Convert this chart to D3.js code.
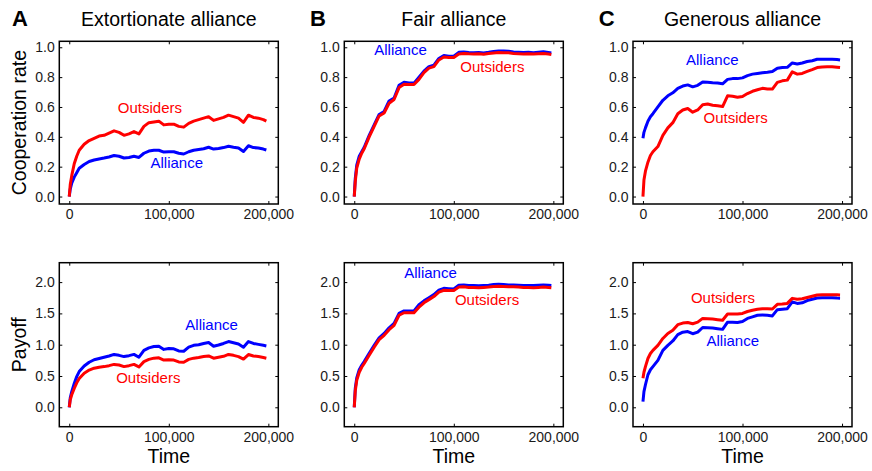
<!DOCTYPE html>
<html>
<head>
<meta charset="utf-8">
<script src="https://cdn.jsdelivr.net/npm/d3@7"></script>
<style>
  body { margin: 0; background: #fff; }
  text { font-family: "Liberation Sans", Arial, sans-serif; }
</style>
</head>
<body>
<script>
// shared time axis (simulation steps)
var time = [0, 1000, 2500, 5000, 7500, 10000, 15000, 20000, 25000, 30000, 35000,
  40000, 45000, 50000, 55000, 60000, 65000, 70000, 75000, 80000, 85000, 90000,
  95000, 100000, 105000, 110000, 115000, 120000, 125000, 130000, 135000, 140000, 145000,
  150000, 155000, 160000, 165000, 170000, 175000, 180000, 185000, 190000, 195000, 198000];

// A: extortionate alliance
var extCoopAlliance = [0, 0.05, 0.09, 0.13, 0.16, 0.19, 0.215, 0.235, 0.245, 0.252, 0.258,
  0.265, 0.275, 0.27, 0.258, 0.262, 0.27, 0.262, 0.29, 0.305, 0.31, 0.31,
  0.298, 0.3, 0.3, 0.29, 0.285, 0.3, 0.31, 0.315, 0.32, 0.33, 0.318,
  0.322, 0.328, 0.337, 0.33, 0.325, 0.302, 0.34, 0.328, 0.325, 0.318, 0.312];
var extCoopOutsiders = [0, 0.08, 0.14, 0.22, 0.27, 0.31, 0.35, 0.375, 0.39, 0.405, 0.41,
  0.425, 0.44, 0.43, 0.41, 0.42, 0.435, 0.42, 0.47, 0.495, 0.5, 0.505,
  0.48, 0.485, 0.485, 0.47, 0.465, 0.49, 0.505, 0.515, 0.525, 0.535, 0.51,
  0.52, 0.53, 0.545, 0.535, 0.525, 0.497, 0.545, 0.53, 0.525, 0.515, 0.505];
var extPayAlliance = [0, 0.15, 0.25, 0.38, 0.49, 0.57, 0.66, 0.72, 0.76, 0.78, 0.8,
  0.82, 0.845, 0.83, 0.81, 0.825, 0.845, 0.8, 0.91, 0.95, 0.97, 0.975,
  0.925, 0.94, 0.935, 0.9, 0.895, 0.96, 0.99, 1.0, 1.02, 1.035, 0.975,
  0.995, 1.02, 1.05, 1.03, 1.01, 0.96, 1.05, 1.02, 1.005, 0.99, 0.98];
var extPayOutsiders = [0, 0.12, 0.2, 0.3, 0.39, 0.46, 0.545, 0.595, 0.625, 0.64, 0.65,
  0.665, 0.685, 0.675, 0.65, 0.665, 0.685, 0.645, 0.73, 0.765, 0.785, 0.79,
  0.755, 0.76, 0.755, 0.725, 0.72, 0.765, 0.785, 0.795, 0.81, 0.82, 0.785,
  0.8, 0.815, 0.845, 0.83, 0.81, 0.77, 0.843, 0.82, 0.81, 0.795, 0.784];

// B: fair alliance
var fairCoopAlliance = [0, 0.12, 0.21, 0.27, 0.3, 0.33, 0.41, 0.48, 0.55, 0.57, 0.64,
  0.66, 0.745, 0.765, 0.76, 0.76, 0.8, 0.84, 0.87, 0.88, 0.925, 0.945,
  0.94, 0.94, 0.966, 0.968, 0.965, 0.963, 0.965, 0.962, 0.966, 0.972, 0.975,
  0.975, 0.973, 0.968, 0.967, 0.965, 0.966, 0.964, 0.967, 0.97, 0.965, 0.962];
var fairCoopOutsiders = [0, 0.1, 0.19, 0.25, 0.29, 0.32, 0.4, 0.47, 0.54, 0.56, 0.625,
  0.65, 0.73, 0.752, 0.75, 0.75, 0.785, 0.83, 0.86, 0.87, 0.915, 0.935,
  0.932, 0.932, 0.955, 0.958, 0.956, 0.955, 0.956, 0.954, 0.958, 0.962, 0.965,
  0.964, 0.963, 0.958, 0.957, 0.955, 0.956, 0.955, 0.957, 0.958, 0.955, 0.952];
var fairPayAlliance = [0, 0.3, 0.47, 0.6, 0.67, 0.73, 0.864, 0.99, 1.11, 1.18, 1.27,
  1.34, 1.5, 1.54, 1.54, 1.54, 1.64, 1.7, 1.75, 1.8, 1.87, 1.9,
  1.895, 1.89, 1.95, 1.955, 1.945, 1.945, 1.94, 1.945, 1.95, 1.96, 1.965,
  1.96, 1.955, 1.955, 1.95, 1.945, 1.945, 1.945, 1.95, 1.955, 1.95, 1.945];
var fairPayOutsiders = [0, 0.26, 0.43, 0.56, 0.64, 0.7, 0.83, 0.96, 1.08, 1.15, 1.24,
  1.31, 1.47, 1.51, 1.51, 1.51, 1.6, 1.67, 1.72, 1.77, 1.84, 1.87,
  1.865, 1.865, 1.92, 1.925, 1.915, 1.915, 1.91, 1.915, 1.92, 1.93, 1.935,
  1.93, 1.925, 1.925, 1.92, 1.915, 1.915, 1.91, 1.915, 1.92, 1.915, 1.91];

// C: generous alliance
var genCoopAlliance = [0.39, 0.43, 0.46, 0.505, 0.535, 0.555, 0.6, 0.645, 0.675, 0.695, 0.725,
  0.74, 0.748, 0.735, 0.745, 0.768, 0.765, 0.762, 0.76, 0.755, 0.785, 0.79,
  0.79, 0.795, 0.81, 0.82, 0.825, 0.83, 0.833, 0.837, 0.86, 0.864, 0.866,
  0.895, 0.888, 0.895, 0.905, 0.91, 0.92, 0.92, 0.92, 0.92, 0.918, 0.915];
var genCoopOutsiders = [0, 0.11, 0.17, 0.23, 0.275, 0.3, 0.335, 0.41, 0.46, 0.495, 0.555,
  0.58, 0.59, 0.565, 0.58, 0.615, 0.62, 0.612, 0.608, 0.603, 0.675, 0.672,
  0.665, 0.67, 0.69, 0.705, 0.715, 0.725, 0.72, 0.72, 0.765, 0.775, 0.78,
  0.835, 0.82, 0.825, 0.838, 0.85, 0.864, 0.868, 0.87, 0.87, 0.866, 0.864];
var genPayAlliance = [0.09, 0.25, 0.36, 0.52, 0.6, 0.65, 0.75, 0.91, 0.99, 1.06, 1.16,
  1.2, 1.21, 1.175, 1.2, 1.275, 1.27, 1.265, 1.255, 1.245, 1.36, 1.36,
  1.355, 1.37, 1.42, 1.445, 1.47, 1.475, 1.47, 1.46, 1.56, 1.568, 1.575,
  1.685, 1.66, 1.67, 1.705, 1.725, 1.745, 1.75, 1.75, 1.75, 1.745, 1.744];
var genPayOutsiders = [0.464, 0.56, 0.65, 0.78, 0.86, 0.91, 0.99, 1.1, 1.18, 1.23, 1.32,
  1.345, 1.355, 1.335, 1.36, 1.42, 1.415, 1.41, 1.4, 1.39, 1.49, 1.49,
  1.49, 1.5, 1.53, 1.55, 1.565, 1.575, 1.575, 1.57, 1.645, 1.65, 1.66,
  1.74, 1.725, 1.735, 1.755, 1.775, 1.795, 1.797, 1.797, 1.8, 1.797, 1.795];

var letters = ["A", "B", "C"];
var titles = ["Extortionate alliance", "Fair alliance", "Generous alliance"];
var rowLabels = ["Cooperation rate", "Payoff"];
var xTicks = [0, 100000, 200000];
var coopTicks = [0, 0.2, 0.4, 0.6, 0.8, 1.0];
var payTicks = [0, 0.5, 1.0, 1.5, 2.0];

// label anchors [time, value] for "Alliance" and "Outsiders" per panel
var allianceLabelPos = [[[108000, 0.194], [143000, 1.237]], [[46500, 0.948], [76600, 2.064]], [[69600, 0.882], [90200, 0.981]]];
var outsidersLabelPos = [[[81000, 0.558], [79400, 0.384]], [[138700, 0.833], [133400, 1.637]], [[93100, 0.491], [80400, 1.674]]];

var series = [
  [[extCoopAlliance, extCoopOutsiders], [extPayAlliance, extPayOutsiders]],
  [[fairCoopAlliance, fairCoopOutsiders], [fairPayAlliance, fairPayOutsiders]],
  [[genCoopAlliance, genCoopOutsiders], [genPayAlliance, genPayOutsiders]]
];

var width = 872, height = 471;
var colLeft = [59.3, 344.3, 633];
var letterX = [12, 310, 598.7];
var panelW = 219;
var rowTop = [41.3, 262.7];
var rowBottom = [204, 426.7];
var yDomains = [[-0.05, 1.04], [-0.31, 2.31]];
var blue = "#0000ff", red = "#ff0000";

var svg = d3.select("body").append("svg")
  .attr("width", width)
  .attr("height", height);

for (var c = 0; c < 3; c++) {
  // panel letter and title
  svg.append("text")
    .attr("x", letterX[c])
    .attr("y", 26)
    .style("font-size", "22px")
    .style("font-weight", "bold")
    .text(letters[c]);
  svg.append("text")
    .attr("x", colLeft[c] + panelW / 2)
    .attr("y", 26)
    .attr("text-anchor", "middle")
    .style("font-size", "19.5px")
    .text(titles[c]);

  for (var r = 0; r < 2; r++) {
    var x = d3.scaleLinear().domain([-10000, 210000]).range([colLeft[c], colLeft[c] + panelW]);
    var y = d3.scaleLinear().domain(yDomains[r]).range([rowBottom[r], rowTop[r]]);
    var yTicks = r === 0 ? coopTicks : payTicks;

    var g = svg.append("g");

    // lines: alliance (blue) then outsiders (red) on top
    var line = d3.line()
      .x(function(d, i) { return x(time[i]); })
      .y(function(d) { return y(d); });

    g.append("path")
      .datum(series[c][r][0])
      .attr("fill", "none")
      .attr("stroke", blue)
      .attr("stroke-width", 3)
      .attr("stroke-linejoin", "round")
      .attr("d", line);
    g.append("path")
      .datum(series[c][r][1])
      .attr("fill", "none")
      .attr("stroke", red)
      .attr("stroke-width", 3)
      .attr("stroke-linejoin", "round")
      .attr("d", line);

    // axes with inward ticks
    var yAxis = d3.axisLeft(y).tickValues(yTicks).tickFormat(d3.format(".1f"))
      .tickSizeInner(-3).tickSizeOuter(0).tickPadding(4.5);
    var xAxis = d3.axisBottom(x).tickValues(xTicks).tickFormat(d3.format(","))
      .tickSizeInner(-3).tickSizeOuter(0).tickPadding(5.5);
    var yAxisR = d3.axisRight(y).tickValues(yTicks).tickFormat("")
      .tickSizeInner(-3).tickSizeOuter(0);
    var xAxisT = d3.axisTop(x).tickValues(xTicks).tickFormat("")
      .tickSizeInner(-3).tickSizeOuter(0);

    [
      [yAxis, "translate(" + colLeft[c] + ",0)"],
      [xAxis, "translate(0," + rowBottom[r] + ")"],
      [yAxisR, "translate(" + (colLeft[c] + panelW) + ",0)"],
      [xAxisT, "translate(0," + rowTop[r] + ")"]
    ].forEach(function(a) {
      var ax = g.append("g").attr("transform", a[1]).call(a[0]);
      ax.select(".domain").remove();
      ax.selectAll("line").attr("stroke", "#000");
      ax.selectAll("text")
        .attr("fill", "#1a1a1a")
        .style("font-size", "14px")
        .style("font-family", "'Liberation Sans', Arial, sans-serif");
    });

    g.append("rect")
      .attr("x", colLeft[c])
      .attr("y", rowTop[r])
      .attr("width", panelW)
      .attr("height", rowBottom[r] - rowTop[r])
      .attr("fill", "none")
      .attr("stroke", "#000")
      .attr("stroke-width", 1.5);

    // series labels
    var ap = allianceLabelPos[c][r], op = outsidersLabelPos[c][r];
    g.append("text")
      .attr("x", x(ap[0])).attr("y", y(ap[1]))
      .attr("text-anchor", "middle")
      .attr("fill", blue)
      .style("font-size", "15px")
      .text("Alliance");
    g.append("text")
      .attr("x", x(op[0])).attr("y", y(op[1]))
      .attr("text-anchor", "middle")
      .attr("fill", red)
      .style("font-size", "15px")
      .text("Outsiders");

    // row labels on the first column, time label on bottom row
    if (c === 0) {
      svg.append("text")
        .attr("transform", "translate(26," + ((rowTop[r] + rowBottom[r]) / 2) + ") rotate(-90)")
        .attr("text-anchor", "middle")
        .style("font-size", "19.5px")
        .text(rowLabels[r]);
    }
    if (r === 1) {
      svg.append("text")
        .attr("x", colLeft[c] + panelW / 2)
        .attr("y", 463.3)
        .attr("text-anchor", "middle")
        .style("font-size", "19.5px")
        .text("Time");
    }
  }
}
</script>
</body>
</html>
